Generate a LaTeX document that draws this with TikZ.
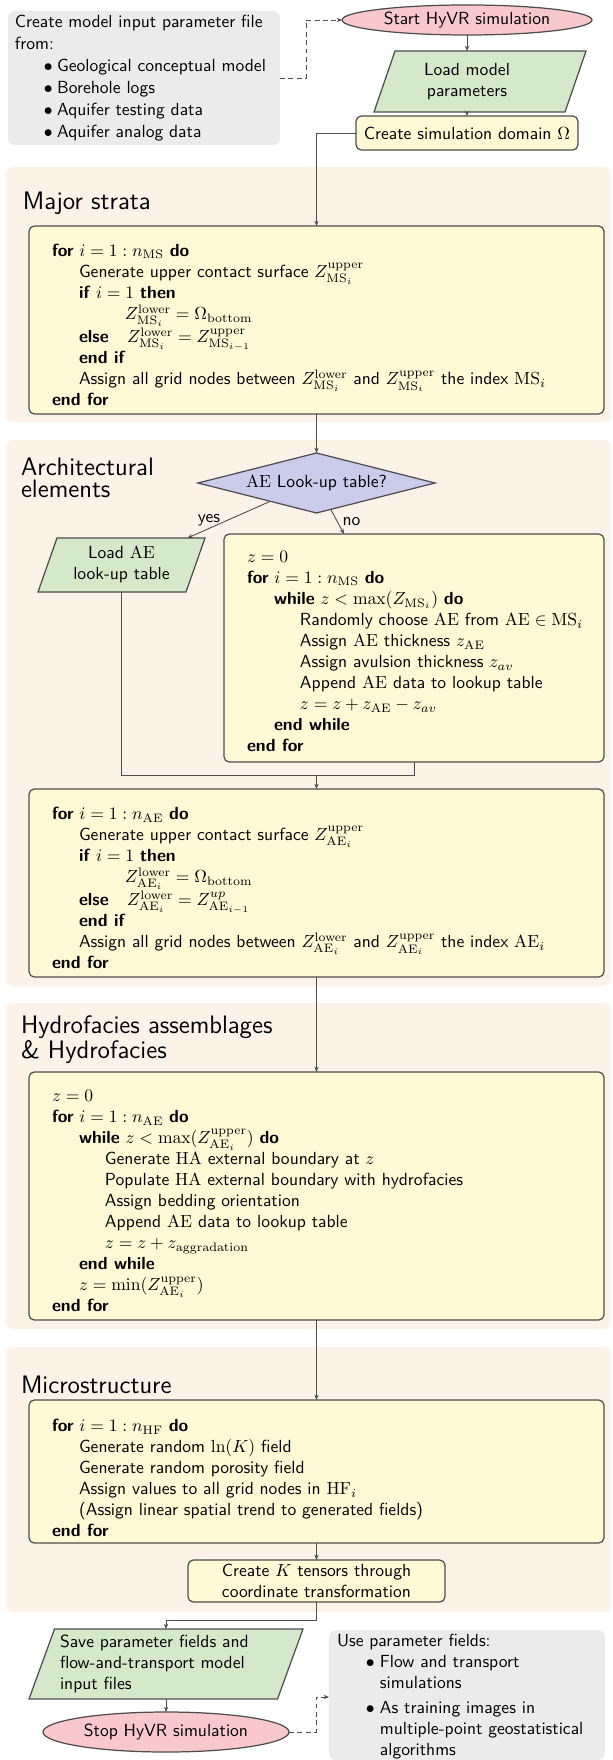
\documentclass[tikz,border=0pt]{standalone}
\usetikzlibrary{arrows.meta,calc,shapes.geometric}
\renewcommand{\familydefault}{\sfdefault}
\definecolor{secbg}{HTML}{FDF2E8}
\definecolor{algofill}{HTML}{FFF9D6}
\definecolor{grayfill}{HTML}{EBEBEB}
\definecolor{pinkfill}{HTML}{F8C8CC}
\definecolor{greenfill}{HTML}{D5E8C9}
\definecolor{lavfill}{HTML}{CBCBEC}
\definecolor{edgec}{HTML}{4D4D4D}
\pgfdeclarelayer{back}
\pgfdeclarelayer{mid}
\pgfsetlayers{back,mid,main}
\newcommand{\kw}[1]{\textbf{#1}}
\newlength{\ia}\setlength{\ia}{15.4pt}
\newlength{\ib}\setlength{\ib}{30.2pt}
\newlength{\ic}\setlength{\ic}{41.6pt}
\newlength{\ie}\setlength{\ie}{27.4pt}
\begin{document}
\begin{tikzpicture}[x=0.57pt,y=-0.57pt,
  every node/.style={inner sep=0pt,outer sep=0pt},
  sz/.style 2 args={minimum width=#1*0.57pt,minimum height=#2*0.57pt},
  secbox/.style={fill=secbg,rounded corners=4pt,anchor=north west},
  algobox/.style={draw=edgec,fill=algofill,line width=0.7pt,rounded corners=3pt,anchor=north west},
  algotext/.style={anchor=north west,align=left},
  greybox/.style={fill=grayfill,rounded corners=4pt,anchor=north west},
  sectitle/.style={anchor=west,align=left,font=\fontsize{14.4}{12.5}\selectfont},
  termnode/.style={ellipse,draw=edgec,fill=pinkfill,line width=0.7pt},
  parashape/.style={draw=edgec,fill=greenfill,line width=0.7pt},
  diamshape/.style={draw=edgec,fill=lavfill,line width=0.7pt},
  lnk/.style={draw=edgec,line width=0.5pt},
  conn/.style={lnk,-{Stealth[length=3pt,width=2.4pt]}},
  dconn/.style={conn,dash pattern=on 2.8pt off 2pt},
]
\useasboundingbox (0,0) rectangle (612,1760);

% ---------- backgrounds
\begin{pgfonlayer}{back}
\node[secbox,sz={605}{255}] (sec1) at (6,167) {};
\node[secbox,sz={605}{546}] (sec2) at (6,440) {};
\node[secbox,sz={605}{326}] (sec3) at (6,1003) {};
\node[secbox,sz={605}{265}] (sec4) at (6,1347) {};
\node[greybox,sz={272}{134}] (input) at (8,11) {};
\node[greybox,sz={276}{130}] (use) at (329,1630) {};
\end{pgfonlayer}

% ---------- titles
\node[sectitle] (t1) at (23,203) {Major strata};
\node[sectitle] (t2) at (21,477.5) {Architectural\\elements};
\node[sectitle] (t3) at (21,1040) {Hydrofacies assemblages\\\& Hydrofacies};
\node[sectitle] (t4) at (21,1385) {Microstructure};

% ---------- top part
\node[anchor=north west,align=left] (inputtxt) at (15,15) {Create model input parameter file\\[0.5pt]from:\\[0.5pt]
\hspace*{16.5pt}\makebox[7.5pt][l]{$\bullet$}Geological conceptual model\\[0.5pt]
\hspace*{16.5pt}\makebox[7.5pt][l]{$\bullet$}Borehole logs\\[0.5pt]
\hspace*{16.5pt}\makebox[7.5pt][l]{$\bullet$}Aquifer testing data\\[0.5pt]
\hspace*{16.5pt}\makebox[7.5pt][l]{$\bullet$}Aquifer analog data};

\node[termnode,sz={250}{30}] (start) at (467,20) {Start HyVR simulation};
\node[sz={186}{61},align=center] (load) at (467,81.5) {Load model\\parameters};
\begin{pgfonlayer}{mid}
\draw[parashape] (load.south west) -- ($(load.north west)+(21,0)$) -- ($(load.north east)+(26,0)$) -- ($(load.south east)+(5,0)$) -- cycle;
\end{pgfonlayer}
\node[algobox,anchor=center,sz={222}{34}] (create) at (467,133) {Create simulation domain $\Omega$};

% ---------- major strata
\node[algobox,sz={575}{188}] (ms) at (29,226) {};
\node[algotext] (mstxt) at (52,244) {\kw{for} $i = 1 : n_{\mathrm{MS}}$ \kw{do}\\
\hspace*{\ia}Generate upper contact surface $Z^{\mathrm{upper}}_{\mathrm{MS}_i}$\\
\hspace*{\ia}\kw{if} $i = 1$ \kw{then}\\
\hspace*{\ic}$Z^{\mathrm{lower}}_{\mathrm{MS}_i} = \Omega_{\mathrm{bottom}}$\\
\hspace*{\ia}\makebox[\ie][l]{\kw{else}}$Z^{\mathrm{lower}}_{\mathrm{MS}_i} = Z^{\mathrm{upper}}_{\mathrm{MS}_{i-1}}$\\
\hspace*{\ia}\kw{end if}\\
\hspace*{\ia}Assign all grid nodes between $Z^{\mathrm{lower}}_{\mathrm{MS}_i}$ and $Z^{\mathrm{upper}}_{\mathrm{MS}_i}$ the index $\mathrm{MS}_i$\\
\kw{end for}};

% ---------- architectural elements
\node[sz={237}{60}] (dec) at (316.5,483) {$\mathrm{AE}$ Look-up table?};
\begin{pgfonlayer}{mid}
\draw[diamshape] (dec.north) -- (dec.east) -- (dec.south) -- (dec.west) -- cycle;
\end{pgfonlayer}
\node[sz={167}{54},align=center] (loadae) at (121.5,565) {Load $\mathrm{AE}$\\look-up table};
\begin{pgfonlayer}{mid}
\draw[parashape] (loadae.south west) -- ($(loadae.north west)+(19,0)$) -- (loadae.north east) -- ($(loadae.south east)+(-19,0)$) -- cycle;
\end{pgfonlayer}
\node[algobox,sz={380}{228}] (gen) at (224,534) {};
\node[algotext] (gentxt) at (247,551) {$z = 0$\\
\kw{for} $i = 1 : n_{\mathrm{MS}}$ \kw{do}\\
\hspace*{\ia}\kw{while} $z < \max(Z_{\mathrm{MS}_i})$ \kw{do}\\
\hspace*{\ib}Randomly choose $\mathrm{AE}$ from $\mathrm{AE} \in \mathrm{MS}_i$\\
\hspace*{\ib}Assign $\mathrm{AE}$ thickness $z_{\mathrm{AE}}$\\
\hspace*{\ib}Assign avulsion thickness $z_{av}$\\
\hspace*{\ib}Append $\mathrm{AE}$ data to lookup table\\
\hspace*{\ib}$z = z + z_{\mathrm{AE}} - z_{av}$\\
\hspace*{\ia}\kw{end while}\\
\kw{end for}};

\node[algobox,sz={575}{188}] (aeb) at (29,789) {};
\node[algotext] (aetxt) at (52,807) {\kw{for} $i = 1 : n_{\mathrm{AE}}$ \kw{do}\\
\hspace*{\ia}Generate upper contact surface $Z^{\mathrm{upper}}_{\mathrm{AE}_i}$\\
\hspace*{\ia}\kw{if} $i = 1$ \kw{then}\\
\hspace*{\ic}$Z^{\mathrm{lower}}_{\mathrm{AE}_i} = \Omega_{\mathrm{bottom}}$\\
\hspace*{\ia}\makebox[\ie][l]{\kw{else}}$Z^{\mathrm{lower}}_{\mathrm{AE}_i} = Z^{up}_{\mathrm{AE}_{i-1}}$\\
\hspace*{\ia}\kw{end if}\\
\hspace*{\ia}Assign all grid nodes between $Z^{\mathrm{lower}}_{\mathrm{AE}_i}$ and $Z^{\mathrm{upper}}_{\mathrm{AE}_i}$ the index $\mathrm{AE}_i$\\
\kw{end for}};

% ---------- hydrofacies
\node[algobox,sz={575}{248}] (hab) at (29,1072) {};
\node[algotext] (habtxt) at (52,1090) {$z = 0$\\
\kw{for} $i = 1 : n_{\mathrm{AE}}$ \kw{do}\\
\hspace*{\ia}\kw{while} $z < \max(Z^{\mathrm{upper}}_{\mathrm{AE}_i})$ \kw{do}\\
\hspace*{\ib}Generate $\mathrm{HA}$ external boundary at $z$\\
\hspace*{\ib}Populate $\mathrm{HA}$ external boundary with hydrofacies\\
\hspace*{\ib}Assign bedding orientation\\
\hspace*{\ib}Append $\mathrm{AE}$ data to lookup table\\
\hspace*{\ib}$z = z + z_{\mathrm{aggradation}}$\\
\hspace*{\ia}\kw{end while}\\
\hspace*{\ia}$z = \min(Z^{\mathrm{upper}}_{\mathrm{AE}_i})$\\
\kw{end for}};

% ---------- microstructure
\node[algobox,sz={575}{143}] (mic) at (29,1400) {};
\node[algotext] (mictxt) at (52,1419) {\kw{for} $i = 1 : n_{\mathrm{HF}}$ \kw{do}\\
\hspace*{\ia}Generate random $\ln(K)$ field\\
\hspace*{\ia}Generate random porosity field\\
\hspace*{\ia}Assign values to all grid nodes in $\mathrm{HF}_i$\\
\hspace*{\ia}(Assign linear spatial trend to generated fields)\\
\kw{end for}};
\node[algobox,anchor=center,sz={257}{42},align=center] (ck) at (316.5,1581) {Create $K$ tensors through\\coordinate transformation};

% ---------- bottom part
\node[sz={274}{70}] (save) at (166,1664) {};
\begin{pgfonlayer}{mid}
\draw[parashape] (save.south west) -- ($(save.north west)+(25.5,0)$) -- (save.north east) -- ($(save.south east)+(-25.5,0)$) -- cycle;
\end{pgfonlayer}
\node[anchor=west,align=left] (savetxt) at (60,1664) {Save parameter fields and\\flow-and-transport model\\input files};
\node[termnode,sz={246}{40}] (stop) at (166,1732) {Stop HyVR simulation};
\node[anchor=north west,align=left] (usetxt) at (337,1634) {Use parameter fields:\\
\hspace*{16.5pt}\makebox[8pt][l]{$\bullet$}Flow and transport\\
\hspace*{24.5pt}simulations\\[2pt]
\hspace*{16.5pt}\makebox[8pt][l]{$\bullet$}As training images in\\
\hspace*{24.5pt}multiple-point geostatistical\\
\hspace*{24.5pt}algorithms};

% ---------- connectors
\draw[dconn] (input.east) -- ++(26,0) |- (start.west);
\draw[conn] (start.south) -- (load.north);
\draw[conn] (load.south) -- (create.north);
\draw[conn] (create.west) -| (ms.north);
\draw[conn] (ms.south) -- (dec.north);
\draw[conn] ($(dec.west)!0.61!(dec.south)$) -- ($(loadae.north)+(66,0)$) node[pos=0.74,above=1.5pt] {yes};
\draw[conn] ($(dec.south)!0.12!(dec.east)$) -- ($(gen.north west)+(120,0)$) node[pos=0.5,right=3pt] {no};
\coordinate (mg) at (316.5,775);
\draw[lnk] (loadae.south) |- (mg);
\draw[lnk] (gen.south) |- (mg);
\draw[conn] (mg) -- (aeb.north);
\draw[conn] (aeb.south) -- (hab.north);
\draw[conn] (hab.south) -- (mic.north);
\draw[conn] (mic.south) -- (ck.north);
\draw[conn] (ck.south) -- ++(0,18) -| (save.north);
\draw[conn] (save.south) -- (stop.north);
\coordinate (ud) at (316,1697);
\draw[dconn] (stop.east) -| (ud) -- (ud -| use.west);
\end{tikzpicture}
\end{document}
